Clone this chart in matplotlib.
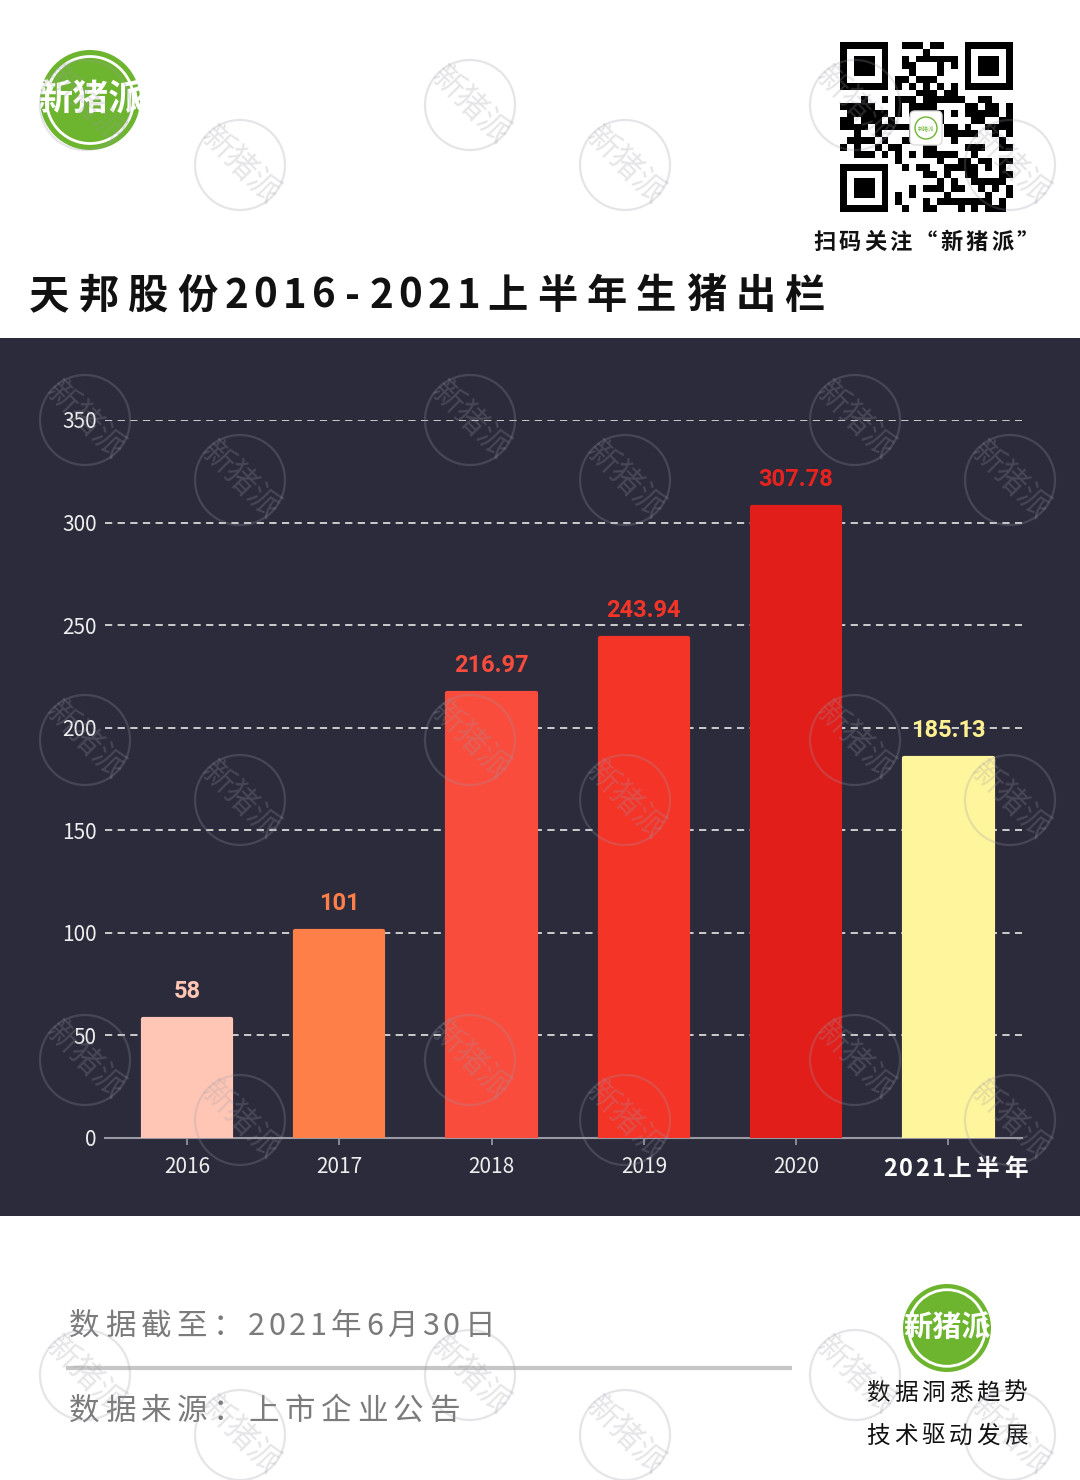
import numpy as np
import matplotlib.pyplot as plt
from matplotlib.patches import Circle, Rectangle, FancyBboxPatch
from matplotlib.transforms import Affine2D

plt.rcParams['font.family'] = ['Noto Sans CJK SC', 'DejaVu Sans']

# data
years = ['2016', '2017', '2018', '2019', '2020', '2021上半年']
output = [58, 101, 216.97, 243.94, 307.78, 185.13]
value_labels = ['58', '101', '216.97', '243.94', '307.78', '185.13']
bar_colors = ['#ffc6b5', '#ff7f48', '#f94c3c', '#f53428', '#e11e1a', '#fff59c']
label_colors = ['#ffc6b5', '#ff7f48', '#f94c3c', '#f53428', '#e8231e', '#fff18f']
yticks = [0, 50, 100, 150, 200, 250, 300, 350]

title = '天邦股份2016-2021上半年生猪出栏'
date_note = '数据截至：2021年6月30日'
source_note = '数据来源：上市企业公告'
slogan = ['数据洞悉趋势', '技术驱动发展']

W, H = 1080, 1480
BG = '#2c2b3b'
GREEN = '#6db52e'

fig = plt.figure(figsize=(W / 100, H / 100), dpi=100)
fig.patch.set_facecolor('white')
# pixel coords, origin top-left
pxt = Affine2D().scale(1 / W, -1 / H).translate(0, 1) + fig.transFigure


def tracked(x, y, s, cjk, asc, ha='left', **kw):
    """ draw a string char by char with fixed pitch """
    cells = [asc if ord(c) < 128 else cjk for c in s]
    total = sum(cells)
    if ha == 'center':
        x -= total / 2
    for c, w in zip(s, cells):
        fig.text(x + w / 2, y, c, ha='center', va='baseline', transform=pxt, **kw)
        x += w


def logo(cx, cy, r, fs):
    fig.patches.append(Circle((cx, cy), r, fc=GREEN, ec='none', transform=pxt, zorder=3))
    fig.patches.append(Circle((cx, cy), r * 0.87, fill=False, ec='white', lw=2,
                              transform=pxt, zorder=3))
    fig.text(cx, cy, '新猪派', ha='center', va='center', color='white', fontsize=fs,
             fontweight='bold', transform=pxt, zorder=4)


# dark panel
fig.patches.append(Rectangle((0, 338), W, 878, fc=BG, ec='none', transform=pxt, zorder=-1))

# chart
ax = fig.add_axes([105 / W, 1 - 1138 / H, 917 / W, 718 / H])
ax.set_facecolor('none')
x = np.arange(len(years))
bars = ax.bar(x, output, width=0.58, color=bar_colors, edgecolor=bar_colors, linewidth=3,
              zorder=3)
for b in bars:
    b.set_joinstyle('round')
for xi, v, lab, c in zip(x, output, value_labels, label_colors):
    ax.annotate(lab, (xi, v), xytext=(0, 15), textcoords='offset points', ha='center',
                va='baseline', color=c, fontsize=17, fontweight='bold', family='Roboto',
                zorder=4)

ax.set_xlim(-0.538, 5.483)
ax.set_ylim(0, 350)
ax.set_yticks(yticks)
ax.set_yticklabels([str(t) for t in yticks])
ax.set_xticks(x)
ax.set_xticklabels(years[:-1] + [''])
ax.grid(axis='y', color='#d8d8d8', linestyle=(0, (4, 3)), linewidth=1.3, zorder=1)
for s in ['top', 'right', 'left']:
    ax.spines[s].set_visible(False)
ax.spines['bottom'].set_color('#9a9aa4')
ax.spines['bottom'].set_linewidth(1.5)
ax.tick_params(axis='y', length=0, pad=6, labelsize=15, labelcolor='#eeeeee')
ax.tick_params(axis='x', length=5, width=1.2, color='#9a9aa4', pad=8, labelsize=15,
               labelcolor='#eeeeee')
tracked(956, 1176, years[-1], 28, 16, ha='center', color='white', fontsize=17,
        fontweight='bold')

# header
logo(90, 100, 50, 26)
tracked(24, 308, title, 49.5, 29, color='#111111', fontsize=29, fontweight='bold')

# qr-like block
n = 25
qr = np.zeros((n, n), dtype=int)
bits = np.unpackbits(np.frombuffer(('扫码关注新猪派天邦股份' * 12).encode('utf-8'),
                                   dtype=np.uint8))
k = 0
for i in range(n):
    for j in range(n):
        qr[i, j] = bits[k] ^ ((i * j) % 3 == 0)
        k += 1
for (r0, c0) in [(0, 0), (0, n - 7), (n - 7, 0)]:
    qr[max(r0 - 1, 0):r0 + 8, max(c0 - 1, 0):c0 + 8] = 0
    qr[r0:r0 + 7, c0:c0 + 7] = 1
    qr[r0 + 1:r0 + 6, c0 + 1:c0 + 6] = 0
    qr[r0 + 2:r0 + 5, c0 + 2:c0 + 5] = 1
qr[6, 8:n - 8] = (np.arange(8, n - 8) + 1) % 2
qr[8:n - 8, 6] = (np.arange(8, n - 8) + 1) % 2
qax = fig.add_axes([840 / W, 1 - 212 / H, 172 / W, 170 / H])
qax.imshow(qr, cmap='gray_r', interpolation='nearest', aspect='auto')
qax.axis('off')
fig.patches.append(FancyBboxPatch((910, 111), 32, 34, boxstyle='round,pad=0,rounding_size=5',
                                  fc='white', ec='#dddddd', lw=1, transform=pxt, zorder=5))
fig.patches.append(Circle((926, 128), 11, fill=False, ec=GREEN, lw=1, transform=pxt, zorder=6))
fig.text(926, 128, '新猪派', ha='center', va='center', fontsize=4, color=GREEN,
         transform=pxt, zorder=6)
tracked(926, 249, '扫码关注“新猪派”', 25.5, 25.5, ha='center', color='#111111',
        fontsize=16, fontweight='bold')

# footer
tracked(66, 1335, date_note, 36, 20.5, color='#7b7b7b', fontsize=22)
tracked(66, 1420, source_note, 36, 20.5, color='#7b7b7b', fontsize=22)
fig.add_artist(plt.Line2D([68, 790], [1368, 1368], color='#c6c6c6', lw=3, transform=pxt))
logo(947, 1328, 44, 21)
tracked(947, 1400, slogan[0], 27.5, 16, ha='center', color='#111111', fontsize=17)
tracked(947, 1443, slogan[1], 27.5, 16, ha='center', color='#111111', fontsize=17)

# watermarks
wm = '#9a9aa8'
for cx in (85, 470, 855):
    for cy in (105, 420, 740, 1060, 1375):
        for dx, dy in ((0, 0), (155, 60)):
            fig.patches.append(Circle((cx + dx, cy + dy), 45, fill=False, ec=wm, lw=1.6,
                                      alpha=0.25, transform=pxt, zorder=10))
            fig.text(cx + dx, cy + dy, '新猪派', ha='center', va='center', rotation=-45,
                     fontsize=23, color=wm, alpha=0.25, transform=pxt, zorder=10)

fig.savefig('out.png', dpi=100)
